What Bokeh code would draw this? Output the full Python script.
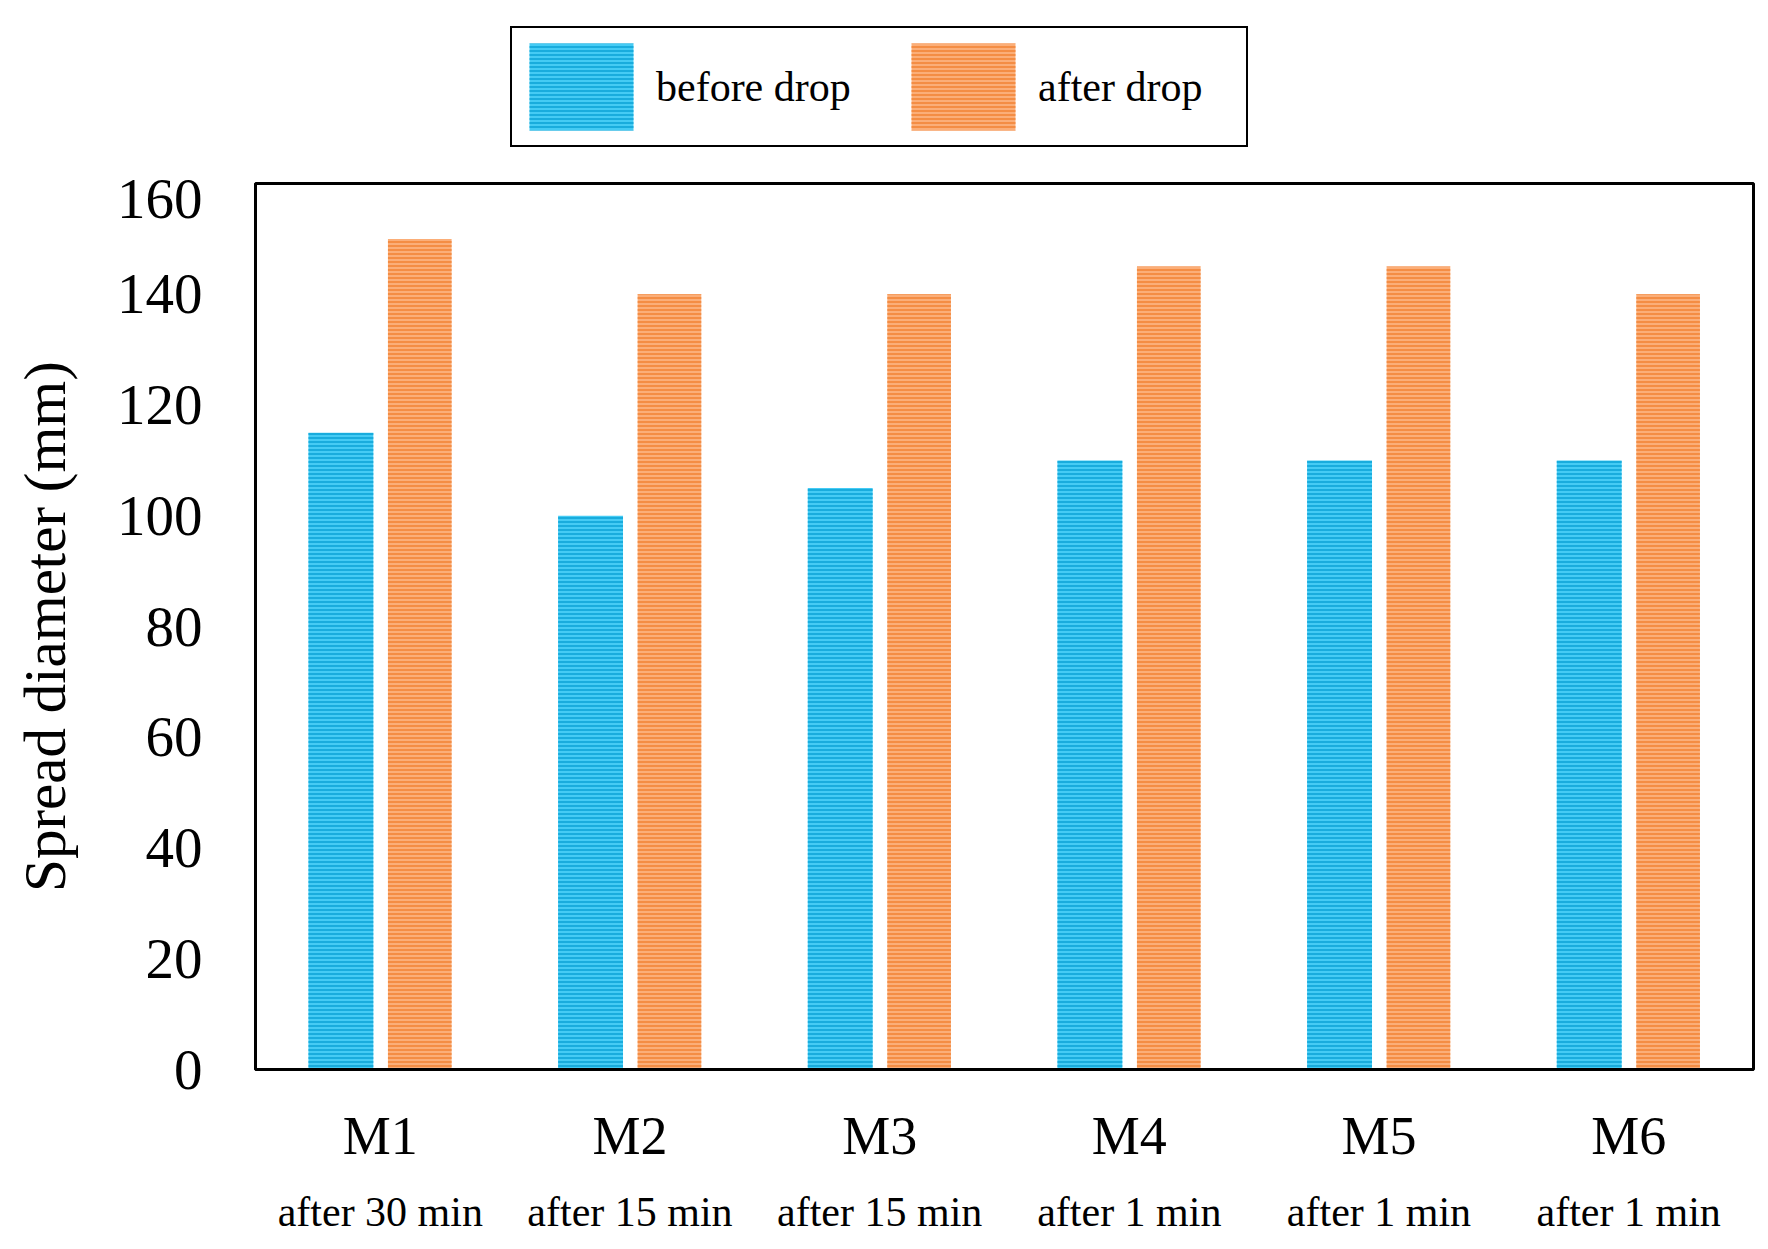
from bokeh.plotting import figure
from bokeh.layouts import column
from bokeh.models import (Range1d, Legend, LegendItem, LinearAxis,
                          ColumnDataSource, FixedTicker)
from bokeh.transform import dodge
from bokeh.embed import file_html
from bokeh.resources import INLINE

materials = ["M1", "M2", "M3", "M4", "M5", "M6"]
times = ["after 30 min", "after 15 min", "after 15 min", "after 1 min", "after 1 min", "after 1 min"]
before_drop = [115, 100, 105, 110, 110, 110]
after_drop = [150, 140, 140, 145, 145, 140]
y_ticks = [0, 20, 40, 60, 80, 100, 120, 140, 160]

FONT = "Liberation Serif"
BLUE = "#45CBF4"
BLUE_H = "#0AA2D6"
ORANGE = "#FBAE78"
ORANGE_H = "#F28232"

W = 1760
LEG_H = 179
TOP, BOTTOM, LEFT, RIGHT = 4, 172, 255, 7
MAIN_H = TOP + 886 + BOTTOM

# category slots: material i occupies [i, i+1] on the x axis
centers = [i + 0.5 for i in range(len(materials))]
src = ColumnDataSource(dict(x=centers, before=before_drop, after=after_drop))

bar_before = dict(fill_color=BLUE, line_color=None, hatch_pattern="horizontal_line",
                  hatch_color=BLUE_H, hatch_scale=4, hatch_weight=1.5)
bar_after = dict(fill_color=ORANGE, line_color=None, hatch_pattern="horizontal_line",
                 hatch_color=ORANGE_H, hatch_scale=4, hatch_weight=1.5)

# ---------------- main chart ----------------
p = figure(width=W, height=MAIN_H,
           x_range=Range1d(0, len(materials)),
           y_range=Range1d(0, 160),
           output_backend="svg", toolbar_location=None,
           min_border_left=LEFT, min_border_right=RIGHT,
           min_border_top=TOP, min_border_bottom=BOTTOM)

r1 = p.vbar(x=dodge("x", -0.158), top="before", width=0.26, source=src, **bar_before)
r2 = p.vbar(x=dodge("x", 0.158), top="after", width=0.255, source=src, **bar_after)

p.xgrid.visible = False
p.ygrid.visible = False
p.outline_line_color = "black"
p.outline_line_width = 3
p.outline_line_alpha = 1
p.background_fill_color = "white"
p.border_fill_color = "white"

ya = p.yaxis[0]
ya.ticker = FixedTicker(ticks=y_ticks)
ya.major_tick_line_color = None
ya.minor_tick_line_color = None
ya.axis_line_color = "black"
ya.axis_line_width = 3
ya.major_label_text_font = FONT
ya.major_label_text_font_size = "57px"
ya.major_label_text_color = "black"
ya.major_label_standoff = 47
ya.axis_label = "Spread diameter (mm)"
ya.axis_label_text_font = FONT
ya.axis_label_text_font_style = "normal"
ya.axis_label_text_font_size = "59px"
ya.axis_label_text_color = "black"
ya.axis_label_standoff = 36

xa = p.xaxis[0]
xa.ticker = FixedTicker(ticks=centers)
xa.major_label_overrides = {c: m for c, m in zip(centers, materials)}
xa.major_tick_line_color = None
xa.minor_tick_line_color = None
xa.axis_line_color = "black"
xa.axis_line_width = 3
xa.major_label_text_font = FONT
xa.major_label_text_font_size = "54px"
xa.major_label_text_color = "black"
xa.major_label_standoff = 30

ta = LinearAxis(ticker=FixedTicker(ticks=centers),
                major_label_overrides={c: t for c, t in zip(centers, times)})
ta.major_tick_line_color = None
ta.minor_tick_line_color = None
ta.axis_line_color = None
ta.major_label_text_font = FONT
ta.major_label_text_font_size = "42px"
ta.major_label_text_color = "black"
ta.major_label_standoff = 14
p.add_layout(ta, "below")

# ---------------- legend strip above the chart ----------------
lg = figure(width=W, height=LEG_H,
            x_range=Range1d(0, len(materials)), y_range=Range1d(1000, 1001),
            x_axis_location=None, y_axis_location=None,
            output_backend="svg", toolbar_location=None,
            min_border_left=0, min_border_right=0,
            min_border_top=0, min_border_bottom=0)
lg.xgrid.visible = False
lg.ygrid.visible = False
lg.outline_line_color = None
lg.background_fill_color = "white"
lg.border_fill_color = "white"
l1 = lg.vbar(x=dodge("x", -0.158), top="before", width=0.26, source=src, **bar_before)
l2 = lg.vbar(x=dodge("x", 0.158), top="after", width=0.255, source=src, **bar_after)

legend = Legend(items=[LegendItem(label="before drop", renderers=[l1]),
                       LegendItem(label="after drop", renderers=[l2])],
                orientation="horizontal", location=(LEFT, 32),
                glyph_width=130, glyph_height=109, label_standoff=10,
                label_width=204, spacing=38, padding=4, margin=0,
                label_text_font=FONT, label_text_font_size="42px",
                label_text_color="black", background_fill_alpha=1,
                border_line_color="black", border_line_width=2.5,
                border_line_alpha=1)
lg.add_layout(legend, "center")

layout = column(lg, p, spacing=0)
open("out.html", "w").write(file_html(layout, INLINE))
